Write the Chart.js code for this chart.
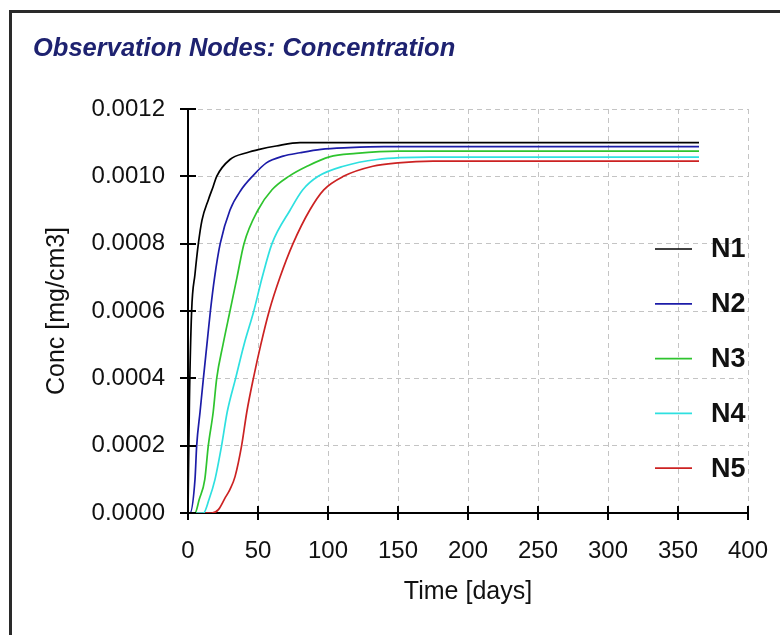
<!DOCTYPE html>
<html><head><meta charset="utf-8">
<script src="https://cdn.jsdelivr.net/npm/chart.js@4/dist/chart.umd.min.js"></script>
<style>html,body{margin:0;padding:0;background:#fff;} canvas{display:block;}</style>
</head><body>
<canvas id="c" width="780" height="635"></canvas>
<script>
// ---- data ----
const chartTitle = 'Observation Nodes: Concentration';
const xAxisTitle = 'Time [days]';
const yAxisTitle = 'Conc [mg/cm3]';
const seriesNames = ['N1', 'N2', 'N3', 'N4', 'N5'];
const xTickValues = [0, 50, 100, 150, 200, 250, 300, 350, 400];
const yTickValues = [0, 0.0002, 0.0004, 0.0006, 0.0008, 0.0010, 0.0012];

const n1Time = [0, 1, 2.6, 5, 7.4, 10, 14.5, 18, 20.5, 30, 42, 51, 63, 80, 365];
const n1Conc = [0, 0.00033, 0.0006, 0.00071, 0.0008, 0.00087, 0.00093, 0.00097, 0.0010, 0.00105, 0.00107, 0.00108, 0.00109, 0.0011, 0.0011];

const n2Time = [0, 1.4, 5, 6.2, 8.6, 11, 13.5, 16, 19, 23, 30, 38, 46, 56, 68, 80, 95, 115, 140, 365];
const n2Conc = [0, 0, 0.0001, 0.0002, 0.0003, 0.0004, 0.0005, 0.0006, 0.0007, 0.0008, 0.0009, 0.00096, 0.0010, 0.00104, 0.00106, 0.00107, 0.00108, 0.001085, 0.001088, 0.001088];

const n3Time = [0, 5, 8, 12, 14.5, 18, 20.5, 25, 30, 35, 40, 50, 60, 72, 85, 101, 120, 150, 365];
const n3Conc = [0, 0, 0.00004, 0.0001, 0.0002, 0.0003, 0.0004, 0.0005, 0.0006, 0.0007, 0.0008, 0.0009, 0.00096, 0.0010, 0.00103, 0.001058, 0.001068, 0.001075, 0.001075];

const n4Time = [0, 11, 15, 19.3, 24, 28, 34, 40, 47, 53, 60, 73, 82, 93, 111, 135, 173, 365];
const n4Conc = [0, 0, 0.00004, 0.0001, 0.0002, 0.0003, 0.0004, 0.0005, 0.0006, 0.0007, 0.0008, 0.0009, 0.00096, 0.0010, 0.00103, 0.00105, 0.001057, 0.001057];

const n5Time = [0, 17, 21.7, 26.4, 30, 33.6, 38.3, 42, 46.7, 52, 58, 65.7, 75, 87, 97, 111, 132, 150, 175, 365];
const n5Conc = [0, 0, 0.00001, 0.000044, 0.00007, 0.000108, 0.0002, 0.0003, 0.0004, 0.0005, 0.0006, 0.0007, 0.0008, 0.0009, 0.00096, 0.0010, 0.00103, 0.00104, 0.001045, 0.001045];

const seriesTimes = [n1Time, n2Time, n3Time, n4Time, n5Time];
const seriesConcs = [n1Conc, n2Conc, n3Conc, n4Conc, n5Conc];
const seriesColors = ['#000000', '#1c1ca8', '#2ec42e', '#2ee0e0', '#cc2222'];

const FONT = '"Liberation Sans", Arial, sans-serif';

const datasets = seriesNames.map((name, i) => ({
  label: name,
  data: seriesTimes[i].map((t, j) => ({x: t, y: seriesConcs[i][j]})),
  borderColor: seriesColors[i],
  backgroundColor: seriesColors[i],
  borderWidth: 1.7,
  pointRadius: 0,
  showLine: true,
  fill: false,
  cubicInterpolationMode: 'monotone'
}));

const framePlugin = {
  id: 'frame',
  beforeDraw(chart) {
    const ctx = chart.ctx;
    ctx.save();
    ctx.fillStyle = '#ffffff';
    ctx.fillRect(0, 0, chart.width, chart.height);
    ctx.strokeStyle = '#2a2a2a';
    ctx.lineWidth = 3;
    ctx.beginPath();
    ctx.moveTo(10.5, chart.height);
    ctx.lineTo(10.5, 11.5);
    ctx.lineTo(chart.width, 11.5);
    ctx.stroke();
    ctx.fillStyle = '#1e2270';
    ctx.font = 'italic bold 25.5px ' + FONT;
    ctx.textBaseline = 'middle';
    ctx.textAlign = 'left';
    ctx.fillText(chartTitle, 33, 49);
    ctx.restore();
  }
};

const tickPlugin = {
  id: 'crossTicks',
  afterDraw(chart) {
    const ctx = chart.ctx;
    const xs = chart.scales.x, ys = chart.scales.y;
    const a = chart.chartArea;
    ctx.save();
    ctx.strokeStyle = '#000';
    ctx.lineWidth = 2;
    ctx.beginPath();
    yTickValues.forEach(v => {
      const py = Math.round(ys.getPixelForValue(v));
      ctx.moveTo(a.left - 8, py); ctx.lineTo(a.left + 8, py);
    });
    xTickValues.forEach(v => {
      const px = Math.round(xs.getPixelForValue(v));
      ctx.moveTo(px, a.bottom - 7); ctx.lineTo(px, a.bottom + 7);
    });
    ctx.stroke();
    ctx.restore();
  }
};

const legendPlugin = {
  id: 'sideLegend',
  afterDatasetsDraw(chart) {
    const ctx = chart.ctx;
    ctx.save();
    ctx.font = 'bold 27px ' + FONT;
    ctx.textBaseline = 'middle';
    ctx.textAlign = 'left';
    seriesNames.forEach((name, i) => {
      const y = 249 + i * 54.8;
      ctx.strokeStyle = seriesColors[i];
      ctx.lineWidth = 1.7;
      ctx.beginPath();
      ctx.moveTo(655, y); ctx.lineTo(692, y);
      ctx.stroke();
      ctx.fillStyle = '#111';
      ctx.fillText(name, 711, y + 1);
    });
    ctx.restore();
  }
};

new Chart(document.getElementById('c'), {
  type: 'scatter',
  data: { datasets },
  options: {
    responsive: false,
    animation: false,
    devicePixelRatio: 1,
    layout: { padding: { top: 109, right: 32, left: 0, bottom: 0 } },
    plugins: { legend: { display: false }, tooltip: { enabled: false }, title: { display: false } },
    scales: {
      x: {
        type: 'linear', min: 0, max: 400,
        afterFit(s) { s.height = 122; s.paddingLeft = 0; s.paddingRight = 0; },
        afterBuildTicks(s) { s.ticks = xTickValues.map(v => ({value: v})); },
        ticks: { color: '#111', font: { family: FONT, size: 24 }, padding: 24, maxRotation: 0, autoSkip: false,
                 callback: v => String(v) },
        grid: { color: '#c4c4c4', lineWidth: 1, drawTicks: false },
        border: { display: true, color: '#000', width: 2, dash: [5, 4] },
        title: { display: true, text: xAxisTitle, color: '#111', font: { family: FONT, size: 25 }, padding: { top: 0, bottom: 28 } }
      },
      y: {
        type: 'linear', min: 0, max: 0.0012,
        afterFit(s) { s.width = 188; s.paddingTop = 0; s.paddingBottom = 0; },
        afterBuildTicks(s) { s.ticks = yTickValues.map(v => ({value: v})); },
        ticks: { color: '#111', font: { family: FONT, size: 24 }, padding: 23, autoSkip: false,
                 callback: v => Number(v).toFixed(4) },
        grid: { color: '#c4c4c4', lineWidth: 1, drawTicks: false },
        border: { display: true, color: '#000', width: 2, dash: [5, 4] },
        title: { display: true, text: yAxisTitle, color: '#111', font: { family: FONT, size: 25 }, padding: { top: 42, bottom: 0 } }
      }
    }
  },
  plugins: [framePlugin, tickPlugin, legendPlugin]
});
</script>
</body></html>
